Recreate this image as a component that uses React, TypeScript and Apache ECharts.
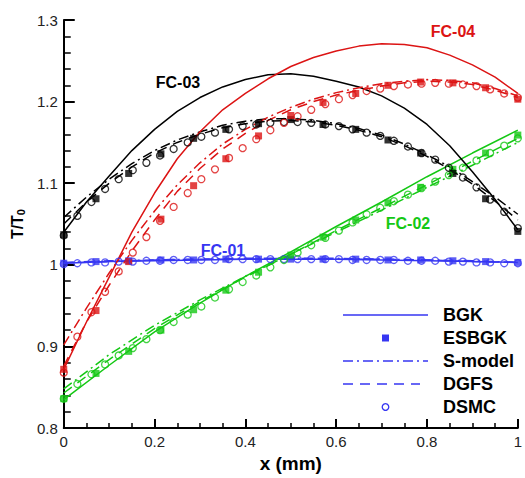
import React, { useEffect, useRef } from "react";
import * as echarts from "echarts";

// ---------- data ----------
const xLine21 = [0, 0.05, 0.1, 0.15, 0.2, 0.25, 0.3, 0.35, 0.4, 0.45, 0.5, 0.55, 0.6, 0.65, 0.7, 0.75, 0.8, 0.85, 0.9, 0.95, 1];
const xLine11 = [0, 0.1, 0.2, 0.3, 0.4, 0.5, 0.6, 0.7, 0.8, 0.9, 1];
const xSquares = [0, 0.071, 0.143, 0.214, 0.286, 0.357, 0.429, 0.5, 0.571, 0.643, 0.714, 0.786, 0.857, 0.929, 1];
const xCircles = [0, 0.03, 0.061, 0.091, 0.121, 0.152, 0.182, 0.212, 0.242, 0.273, 0.303, 0.333, 0.364, 0.394, 0.424, 0.455, 0.485, 0.515, 0.545, 0.576, 0.606, 0.636, 0.667, 0.697, 0.727, 0.758, 0.788, 0.818, 0.848, 0.879, 0.909, 0.939, 0.97, 1];

// FC-01 (blue)
const fc01BGK = [1.002, 1.004, 1.005, 1.006, 1.007, 1.007, 1.007, 1.006, 1.005, 1.004, 1.003];
const fc01SModel = [1.003, 1.005, 1.006, 1.007, 1.008, 1.008, 1.008, 1.007, 1.006, 1.005, 1.003];
const fc01DGFS = [1.002, 1.004, 1.006, 1.007, 1.007, 1.008, 1.007, 1.007, 1.006, 1.004, 1.003];
const fc01ESBGK = [1.002, 1.004, 1.005, 1.006, 1.006, 1.007, 1.007, 1.007, 1.007, 1.007, 1.006, 1.006, 1.005, 1.004, 1.003];
const fc01DSMC = [1.001, 1.002, 1.003, 1.003, 1.004, 1.004, 1.005, 1.005, 1.006, 1.006, 1.006, 1.006, 1.007, 1.007, 1.007, 1.007, 1.007, 1.007, 1.007, 1.007, 1.007, 1.006, 1.006, 1.006, 1.006, 1.005, 1.005, 1.005, 1.004, 1.004, 1.003, 1.003, 1.002, 1.002];

// FC-02 (green)
const fc02BGK = [0.835, 0.877, 0.918, 0.953, 0.986, 1.016, 1.047, 1.077, 1.108, 1.137, 1.165];
const fc02SModel = [0.848, 0.89, 0.926, 0.957, 0.986, 1.013, 1.04, 1.067, 1.095, 1.122, 1.15];
const fc02DGFS = [0.843, 0.884, 0.922, 0.955, 0.985, 1.013, 1.042, 1.07, 1.098, 1.127, 1.155];
const fc02ESBGK = [0.836, 0.867, 0.894, 0.92, 0.945, 0.969, 0.991, 1.012, 1.034, 1.055, 1.076, 1.095, 1.117, 1.137, 1.159];
const fc02DSMC = [0.836, 0.854, 0.866, 0.878, 0.889, 0.898, 0.909, 0.92, 0.93, 0.939, 0.949, 0.96, 0.97, 0.979, 0.987, 0.997, 1.006, 1.015, 1.024, 1.033, 1.042, 1.052, 1.062, 1.07, 1.078, 1.086, 1.094, 1.102, 1.11, 1.119, 1.128, 1.137, 1.146, 1.155];

// FC-03 (black)
const fc03BGK = [1.04, 1.077, 1.109, 1.14, 1.166, 1.188, 1.205, 1.218, 1.227, 1.233, 1.234, 1.231, 1.225, 1.218, 1.207, 1.192, 1.172, 1.146, 1.114, 1.08, 1.043];
const fc03SModel = [1.058, 1.083, 1.105, 1.124, 1.14, 1.153, 1.163, 1.171, 1.176, 1.179, 1.179, 1.177, 1.173, 1.167, 1.159, 1.148, 1.135, 1.12, 1.102, 1.083, 1.062];
const fc03DGFS = [1.05, 1.077, 1.1, 1.12, 1.137, 1.15, 1.16, 1.168, 1.173, 1.176, 1.177, 1.175, 1.171, 1.165, 1.157, 1.146, 1.133, 1.117, 1.099, 1.078, 1.055];
const fc03ESBGK = [1.037, 1.081, 1.112, 1.136, 1.155, 1.166, 1.173, 1.178, 1.172, 1.166, 1.153, 1.137, 1.112, 1.081, 1.041];
const fc03DSMC = [1.036, 1.06, 1.077, 1.093, 1.105, 1.116, 1.125, 1.134, 1.142, 1.15, 1.157, 1.162, 1.166, 1.17, 1.172, 1.174, 1.175, 1.175, 1.174, 1.172, 1.17, 1.166, 1.162, 1.158, 1.152, 1.145, 1.137, 1.129, 1.119, 1.107, 1.095, 1.08, 1.065, 1.045];

// FC-04 (red)
const fc04BGK = [0.872, 0.93, 0.985, 1.04, 1.088, 1.13, 1.163, 1.19, 1.21, 1.228, 1.243, 1.254, 1.262, 1.268, 1.271, 1.27, 1.266, 1.257, 1.245, 1.23, 1.21];
const fc04SModel = [0.902, 0.947, 0.99, 1.03, 1.066, 1.098, 1.125, 1.148, 1.166, 1.181, 1.193, 1.203, 1.211, 1.217, 1.222, 1.225, 1.227, 1.226, 1.223, 1.216, 1.207];
const fc04DGFS = [0.876, 0.93, 0.975, 1.017, 1.055, 1.09, 1.118, 1.142, 1.161, 1.177, 1.19, 1.2, 1.208, 1.214, 1.219, 1.223, 1.225, 1.224, 1.221, 1.214, 1.205];
const fc04ESBGK = [0.872, 0.944, 1.004, 1.056, 1.097, 1.13, 1.158, 1.183, 1.199, 1.21, 1.22, 1.224, 1.223, 1.217, 1.203];
const fc04DSMC = [0.868, 0.912, 0.942, 0.967, 0.992, 1.015, 1.034, 1.054, 1.071, 1.088, 1.105, 1.117, 1.131, 1.143, 1.154, 1.165, 1.174, 1.182, 1.19, 1.197, 1.203, 1.208, 1.213, 1.216, 1.219, 1.221, 1.222, 1.223, 1.222, 1.221, 1.219, 1.215, 1.21, 1.205];

const legendNames = ["BGK", "ESBGK", "S-model", "DGFS", "DSMC"];
const caseLabels = ["FC-01", "FC-02", "FC-03", "FC-04"];

const BLUE = "#3636f2";
const GREEN = "#14c814";
const BLACK = "#000000";
const RED = "#dc1414";
const FONT = "'Liberation Sans', Arial, Helvetica, sans-serif";

const DASHDOT = [10, 4, 2, 4];
const DASHED = [10, 7];

function pts(xs: number[], ys: number[]) {
  return xs.map((x, i) => [x, ys[i]]);
}

function caseSeries(color: string, xl: number[], bgk: number[], smod: number[], dgfs: number[], es: number[], dsmc: number[]) {
  return [
    { type: "line", data: pts(xl, bgk), symbol: "none", lineStyle: { color, width: 1.5, type: "solid" }, z: 2 },
    { type: "line", data: pts(xl, smod), symbol: "none", lineStyle: { color, width: 1.5, type: DASHDOT }, z: 2 },
    { type: "line", data: pts(xl, dgfs), symbol: "none", lineStyle: { color, width: 1.5, type: DASHED }, z: 2 },
    { type: "scatter", data: pts(xSquares, es), symbol: "rect", symbolSize: 7, itemStyle: { color }, z: 3 },
    {
      type: "scatter",
      data: pts(xCircles, dsmc),
      symbol: "circle",
      symbolSize: 7,
      itemStyle: { color: "rgba(255,255,255,0)", borderColor: color, borderWidth: 1.3 },
      z: 4,
    },
  ];
}

export default function App() {
  const ref = useRef<HTMLDivElement>(null);
  useEffect(() => {
    if (!ref.current) return;
    const chart = echarts.init(ref.current, undefined, { renderer: "svg" });

    const series = [
      ...caseSeries(BLUE, xLine11, fc01BGK, fc01SModel, fc01DGFS, fc01ESBGK, fc01DSMC),
      ...caseSeries(GREEN, xLine11, fc02BGK, fc02SModel, fc02DGFS, fc02ESBGK, fc02DSMC),
      ...caseSeries(BLACK, xLine21, fc03BGK, fc03SModel, fc03DGFS, fc03ESBGK, fc03DSMC),
      ...caseSeries(RED, xLine21, fc04BGK, fc04SModel, fc04DGFS, fc04ESBGK, fc04DSMC),
    ];

    const legX0 = 343;
    const legX1 = 428;
    const legMid = (legX0 + legX1) / 2;
    const rowY = [315, 338, 361, 384, 407];
    const legendGraphics: any[] = [
      { type: "line", shape: { x1: legX0, y1: rowY[0], x2: legX1, y2: rowY[0] }, style: { stroke: BLUE, lineWidth: 1.5 } },
      { type: "rect", shape: { x: legMid - 3.5, y: rowY[1] - 3.5, width: 7, height: 7 }, style: { fill: BLUE } },
      { type: "line", shape: { x1: legX0, y1: rowY[2], x2: legX1, y2: rowY[2] }, style: { stroke: BLUE, lineWidth: 1.5, lineDash: DASHDOT } },
      { type: "line", shape: { x1: legX0, y1: rowY[3], x2: legX1 - 8, y2: rowY[3] }, style: { stroke: BLUE, lineWidth: 1.5, lineDash: DASHED } },
      { type: "circle", shape: { cx: legMid, cy: rowY[4], r: 3.3 }, style: { fill: "none", stroke: BLUE, lineWidth: 1.3 } },
      ...legendNames.map((n, i) => ({
        type: "text",
        x: 443,
        y: rowY[i],
        style: { text: n, font: `bold 18px ${FONT}`, fill: "#000", textAlign: "left", textVerticalAlign: "middle" },
      })),
    ];

    const labelPos = [
      { x: 223, y: 250, c: BLUE },
      { x: 408, y: 223, c: GREEN },
      { x: 178, y: 82, c: BLACK },
      { x: 453, y: 31, c: RED },
    ];
    const labelGraphics = caseLabels.map((t, i) => ({
      type: "text",
      x: labelPos[i].x,
      y: labelPos[i].y,
      style: { text: t, font: `bold 16px ${FONT}`, fill: labelPos[i].c, textAlign: "center", textVerticalAlign: "middle" },
      z: 10,
    }));

    chart.setOption({
      animation: false,
      backgroundColor: "#ffffff",
      grid: { left: 63, right: 2, top: 20, bottom: 41 },
      xAxis: {
        type: "value",
        min: 0,
        max: 1,
        interval: 0.2,
        name: "x (mm)",
        nameLocation: "middle",
        nameGap: 20,
        nameTextStyle: { fontSize: 19, fontWeight: "bold", color: "#000", fontFamily: FONT },
        axisLine: { show: true, lineStyle: { color: "#000", width: 2 } },
        axisTick: { show: true, inside: true, length: 9, lineStyle: { color: "#000", width: 2 } },
        minorTick: { show: true, splitNumber: 4, length: 5, lineStyle: { color: "#000", width: 1.5 } },
        splitLine: { show: false },
        axisLabel: { fontSize: 15, color: "#222", margin: 6, fontFamily: FONT },
      },
      yAxis: {
        type: "value",
        min: 0.8,
        max: 1.3,
        interval: 0.1,
        name: "T/T{sub|0}",
        nameLocation: "middle",
        nameRotate: 90,
        nameGap: 30,
        nameTextStyle: {
          fontSize: 16,
          fontWeight: "bold",
          color: "#000",
          fontFamily: FONT,
          lineHeight: 18,
          rich: { sub: { fontSize: 11, fontWeight: "bold", fontFamily: FONT, color: "#000", verticalAlign: "bottom", lineHeight: 18 } },
        },
        axisLine: { show: true, lineStyle: { color: "#000", width: 2 } },
        axisTick: { show: true, inside: true, length: 11, lineStyle: { color: "#000", width: 2 } },
        minorTick: { show: true, splitNumber: 5, length: 7, lineStyle: { color: "#000", width: 1.5 } },
        splitLine: { show: false },
        axisLabel: { fontSize: 15, color: "#222", margin: 6, fontFamily: FONT },
      },
      series,
      graphic: [...legendGraphics, ...labelGraphics],
    });

    return () => chart.dispose();
  }, []);

  return <div ref={ref} style={{ position: "fixed", left: 0, top: 0, width: 525, height: 478, background: "#fff" }} />;
}
